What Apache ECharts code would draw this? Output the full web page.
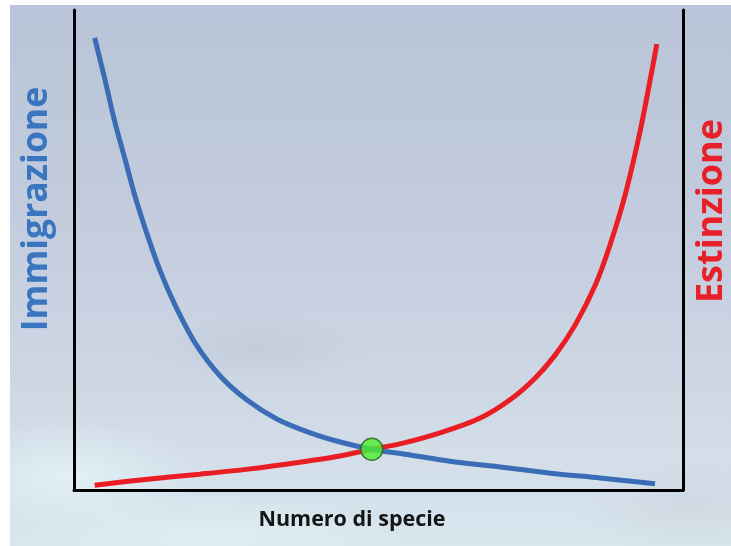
<!DOCTYPE html>
<html>
<head>
<meta charset="utf-8">
<script src="https://cdn.jsdelivr.net/npm/echarts@6/dist/echarts.min.js"></script>
<style>
  html, body { margin: 0; padding: 0; background: #ffffff; }
  #wrap { position: relative; width: 731px; height: 546px; overflow: hidden; background: #ffffff; }
  #sky {
    position: absolute; left: 10px; top: 5px; right: 0; bottom: 0;
    background:
      radial-gradient(ellipse 110px 35px at 250px 345px, rgba(170,180,195,0.25), rgba(170,180,195,0) 100%),
      radial-gradient(ellipse 130px 55px at 60px 470px, rgba(232,246,249,0.7), rgba(232,246,249,0) 100%),
      radial-gradient(ellipse 200px 40px at 200px 530px, rgba(228,243,247,0.6), rgba(228,243,247,0) 100%),
      radial-gradient(ellipse 120px 50px at 680px 500px, rgba(200,208,218,0.5), rgba(200,208,218,0) 100%),
      linear-gradient(to bottom, #bac4d8 0%, #c1cbdd 35%, #c9d3e2 60%, #d2dde8 82%, #d9e6ee 100%);
  }
  #chart { position: absolute; left: 0; top: 0; width: 731px; height: 546px; }
</style>
</head>
<body>
<div id="wrap">
  <div id="sky"></div>
  <div id="chart"></div>
</div>
<script>
// Number of species (x, 0-100) vs rate (y, 0-100)
const immigrationX = [3.4, 5.1, 6.7, 8.4, 10.0, 12.0, 14.1, 16.6, 19.9, 24.0, 28.4, 33.3, 38.8, 43.7, 48.9, 55.2, 61.7, 70.0, 78.2, 86.4, 95.4];
const immigrationY = [94.2, 85.4, 76.7, 68.8, 61.3, 53.3, 45.8, 38.5, 30.6, 23.75, 18.75, 14.8, 11.9, 10.0, 8.5, 7.3, 6.0, 4.8, 3.5, 2.5, 1.3];
const extinctionX = [3.4, 12.5, 20.7, 28.9, 37.1, 43.7, 48.9, 53.5, 60.1, 66.7, 71.6, 75.7, 79.0, 82.3, 85.6, 88.0, 90.5, 93.0, 94.6, 95.7];
const extinctionY = [1.0, 2.3, 3.3, 4.4, 5.8, 7.1, 8.5, 9.6, 11.9, 15.0, 18.8, 23.3, 28.1, 34.4, 42.7, 51.0, 61.5, 75.0, 85.4, 92.9];
const equilibrium = [48.9, 8.5];
const labels = { left: 'Immigrazione', right: 'Estinzione', bottom: 'Numero di specie' };

const zip = (xs, ys) => xs.map((x, i) => [x, ys[i]]);

const chart = echarts.init(document.getElementById('chart'), null, { renderer: 'canvas' });
const axisLineStyle = { color: '#000000', width: 3 };
chart.setOption({
  backgroundColor: 'transparent',
  animation: false,
  grid: { left: 74, right: 48, top: 10, bottom: 56 },
  xAxis: {
    type: 'value', min: 0, max: 100,
    axisLine: { show: true, onZero: false, lineStyle: axisLineStyle },
    axisTick: { show: false }, axisLabel: { show: false }, splitLine: { show: false }
  },
  yAxis: [
    {
      type: 'value', min: 0, max: 100, position: 'left',
      axisLine: { show: true, onZero: false, lineStyle: axisLineStyle },
      axisTick: { show: false }, axisLabel: { show: false }, splitLine: { show: false }
    },
    {
      type: 'value', min: 0, max: 100, position: 'right',
      axisLine: { show: true, onZero: false, lineStyle: axisLineStyle },
      axisTick: { show: false }, axisLabel: { show: false }, splitLine: { show: false }
    }
  ],
  series: [
    {
      type: 'line', name: labels.left, data: zip(immigrationX, immigrationY),
      smooth: 0.3, showSymbol: false, z: 3,
      lineStyle: { color: '#3a6db5', width: 5 }
    },
    {
      type: 'line', name: labels.right, data: zip(extinctionX, extinctionY),
      smooth: 0.3, showSymbol: false, z: 2,
      lineStyle: { color: '#ea1c24', width: 5 }
    },
    {
      type: 'scatter', data: [equilibrium], symbolSize: 22, z: 5,
      itemStyle: { color: '#4cef2e', borderColor: '#2b5e1c', borderWidth: 1.5 }
    }
  ],
  graphic: [
    {
      type: 'text', x: 37, y: 209, rotation: Math.PI / 2,
      style: {
        text: labels.left, fill: '#3a76c0',
        font: 'bold 35.5px "Open Sans"', align: 'center', verticalAlign: 'middle'
      }
    },
    {
      type: 'text', x: 712, y: 211, rotation: Math.PI / 2,
      style: {
        text: labels.right, fill: '#e8202a',
        font: 'bold 36px "Open Sans"', align: 'center', verticalAlign: 'middle'
      }
    },
    {
      type: 'text', x: 352, y: 520,
      style: {
        text: labels.bottom, fill: '#141414',
        font: 'bold 21.5px "Open Sans"', align: 'center', verticalAlign: 'middle'
      }
    }
  ]
});
</script>
</body>
</html>
